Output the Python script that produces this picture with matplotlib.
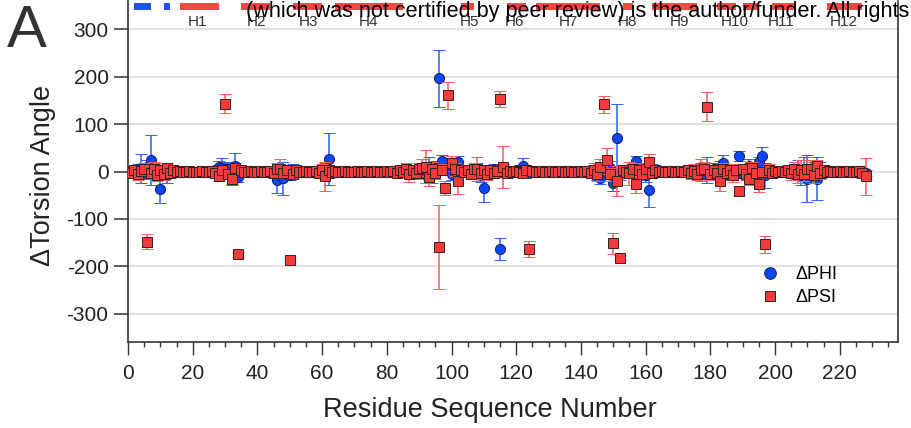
import matplotlib
matplotlib.use("Agg")
import matplotlib.pyplot as plt
from matplotlib.lines import Line2D
import numpy as np

plt.rcParams['font.family'] = ['Liberation Sans', 'DejaVu Sans']
plt.rcParams['axes.unicode_minus'] = False

# ---------------- data ----------------
residues = list(range(1, 229))

phi = [2, -3, 5, 7, -4, 10, 25, 4, -6, -37,
       3, -8, 2, -3, 1, 0, -1, 1, 0, -1,
       0, 1, -1, 0, 1, -2, 3, 10, 8, 5,
       6, -10, 12, -11, 2, -1, 0, 1, 0, -1,
       0, 1, -1, 0, -5, -18, -5, -14, -6, -8,
       3, -4, 1, 0, -1, 0, 1, -2, 3, -4,
       5, 26, -3, 2, -1, 0, 1, -1, 0, 1,
       0, -1, 1, 0, -1, 1, 0, -1, 0, 1,
       -1, 0, 2, -3, 4, -2, 5, -6, 3, -4,
       6, -8, 10, -6, 8, 197, 22, 4, 6, -5,
       8, 20, -3, 2, -1, 4, -6, 5, -8, -35,
       3, -5, 6, -4, -163, 5, -3, 2, -1, 3,
       -2, 11, 4, -3, 1, 0, -1, 1, 0, -1,
       0, 1, -1, 0, 1, 0, -1, 0, 1, -1,
       0, 2, -3, 4, -5, -13, 6, -4, 8, -24,
       71, -6, 3, -2, 5, -4, 22, -6, 4, -8,
       -40, 5, -3, 2, -1, 0, 1, -1, 0, 1,
       -1, 0, 2, -3, 4, -2, 5, -6, 3, -4,
       6, -5, 8, 17, -6, 5, -4, 6, 33, -5,
       4, 11, -6, 8, 20, 33, -8, 5, -3, 2,
       -1, 0, 1, -2, 3, -5, 6, -8, 5, -15,
       4, -6, -15, 5, -3, 2, -1, 0, 1, -1,
       0, 1, -1, 0, 1, -2, 2, -3]

phi_err = [6, 8, 10, 31, 12, 15, 53, 14, 12, 30,
           10, 16, 8, 6, 4, 3, 3, 3, 3, 3,
           3, 3, 3, 3, 3, 5, 8, 12, 20, 12,
           15, 18, 28, 12, 6, 4, 3, 3, 3, 3,
           3, 3, 3, 4, 8, 27, 14, 35, 12, 10,
           12, 8, 4, 3, 3, 3, 3, 4, 6, 10,
           14, 55, 8, 5, 3, 3, 3, 3, 3, 3,
           3, 3, 3, 3, 3, 3, 3, 3, 3, 3,
           3, 3, 4, 5, 6, 6, 8, 10, 8, 10,
           12, 16, 20, 18, 15, 60, 12, 10, 12, 14,
           16, 12, 8, 6, 5, 8, 10, 12, 14, 29,
           10, 8, 10, 8, 23, 10, 6, 5, 4, 6,
           8, 17, 8, 5, 3, 3, 3, 3, 3, 3,
           3, 3, 3, 3, 3, 3, 3, 3, 3, 3,
           4, 5, 8, 10, 12, 14, 12, 10, 14, 17,
           72, 12, 8, 6, 8, 10, 11, 12, 10, 14,
           34, 10, 6, 5, 3, 3, 3, 3, 3, 3,
           3, 4, 6, 8, 10, 8, 12, 10, 28, 10,
           12, 10, 14, 18, 12, 10, 8, 10, 10, 8,
           10, 15, 10, 12, 10, 19, 26, 10, 6, 5,
           4, 4, 5, 6, 10, 14, 18, 20, 25, 50,
           20, 18, 45, 15, 8, 5, 3, 3, 3, 3,
           3, 3, 3, 3, 3, 4, 5, 6]

psi = [-4, 3, -6, 2, 5, -148, -3, 6, -8, 4,
       -5, 7, -3, 4, -2, 1, 0, -1, 1, 0,
       -1, 0, 1, -1, 0, 2, -3, -10, 4, 143,
       -6, -15, 8, -175, 3, -2, 0, 1, -1, 0,
       1, -1, 0, 2, -4, 5, 6, -3, 4, -186,
       -5, 3, -1, 0, 1, -1, 0, 2, -3, 4,
       -10, 3, -2, 1, 0, -1, 1, 0, -1, 0,
       1, -1, 0, 1, -1, 0, 1, -1, 0, 1,
       -1, 2, -3, 4, -2, 6, -5, 3, -4, 5,
       8, 10, -11, 6, -4, -159, 4, -35, 161, 17,
       5, -20, 3, -2, 4, -6, 5, 5, -3, 4,
       -5, 3, -4, 2, 154, 9, -3, 2, -1, 1,
       0, -3, 4, -164, 2, -1, 0, 1, -1, 0,
       1, -1, 0, 1, -1, 0, 1, -1, 0, 1,
       -1, 2, -3, 4, -6, 10, 142, 25, -6, -152,
       -20, -182, 3, -2, -4, 5, -27, 3, -5, 6,
       20, -4, 3, -2, 1, 0, -1, 1, 0, -1,
       1, -2, 3, -4, 2, -5, 3, 6, 137, -6,
       4, -3, -20, 5, -4, 3, -8, 4, -42, 6,
       -5, -15, 8, -4, -27, 0, -154, 4, -3, 2,
       -1, 1, -2, 3, -4, 5, -6, 4, -5, 6,
       6, -8, 11, -4, 3, -2, 1, 0, -1, 1,
       0, -1, 1, 0, -2, 2, -3, -10]

psi_err = [8, 10, 12, 10, 12, 15, 10, 14, 12, 15,
           14, 12, 10, 8, 6, 4, 3, 3, 3, 3,
           3, 3, 3, 3, 3, 4, 6, 10, 8, 20,
           10, 12, 10, 6, 5, 4, 3, 3, 3, 3,
           3, 3, 3, 4, 8, 12, 20, 10, 8, 5,
           10, 8, 4, 3, 3, 3, 3, 4, 8, 12,
           31, 8, 5, 3, 3, 3, 3, 3, 3, 3,
           3, 3, 3, 3, 3, 3, 3, 3, 3, 3,
           3, 4, 6, 8, 10, 12, 17, 10, 12, 14,
           18, 35, 20, 15, 12, 89, 12, 15, 29, 15,
           14, 27, 10, 8, 6, 10, 12, 25, 12, 10,
           12, 10, 8, 10, 17, 44, 10, 6, 4, 5,
           8, 10, 8, 17, 5, 3, 3, 3, 3, 3,
           3, 3, 3, 3, 3, 3, 3, 3, 3, 3,
           4, 6, 10, 14, 15, 16, 18, 25, 14, 23,
           32, 5, 10, 12, 25, 14, 18, 12, 10, 12,
           16, 8, 5, 4, 3, 3, 3, 3, 3, 3,
           3, 5, 8, 12, 14, 12, 23, 14, 30, 12,
           10, 12, 21, 14, 10, 12, 14, 12, 8, 10,
           12, 14, 12, 10, 16, 10, 18, 12, 8, 5,
           5, 6, 8, 10, 14, 16, 18, 20, 16, 18,
           14, 16, 14, 12, 8, 5, 3, 3, 3, 4,
           4, 4, 5, 5, 6, 8, 10, 39]

# secondary structure strip (residue ranges)
strand_starts = [2, 11]
strand_ends = [7, 13]
helix_starts = [16, 35, 51, 64, 103, 117, 126, 153, 162, 182, 190, 199, 216]
helix_ends = [28, 44, 60, 85, 107, 123, 146, 156, 176, 188, 195, 206, 227]
helix_labels = ['H1', 'H2', 'H3', 'H4', 'H5', 'H6', 'H7', 'H8', 'H9', 'H10', 'H11', 'H12']
helix_label_pos = [21.6, 39.8, 55.8, 74.2, 105.7, 119.6, 136, 154.5, 170.6, 187.6, 202, 221.1]

y_ticks = [-300, -200, -100, 0, 100, 200, 300]
x_ticks = list(range(0, 221, 20))

# ---------------- figure ----------------
W, H = 912, 428
fig = plt.figure(figsize=(W / 100, H / 100), dpi=100)
ax = fig.add_axes([128 / W, 1 - 342 / H, (898 - 128) / W, (342 - 1) / H])

blue = '#0a46ff'
red = '#f43b3b'

for yv in y_ticks:
    ax.axhline(yv, color='#d9d9d9', lw=1.1, zorder=0)

ax.errorbar(residues, phi, yerr=phi_err, fmt='o', ms=7.3, mfc=blue, mec='#1a2050',
            mew=0.7, ecolor='#2c60ff', elinewidth=1.1, capsize=4.3, capthick=1.1, zorder=3)
ax.errorbar(residues, psi, yerr=psi_err, fmt='s', ms=6.8, mfc=red, mec='#3a1e1e',
            mew=0.7, ecolor='#ff5a5a', elinewidth=1.1, capsize=4.3, capthick=1.1, zorder=4)

# secondary structure strip
for s, e in zip(strand_starts, strand_ends):
    ax.axvspan(s, e, ymin=0.974, ymax=0.994, color='#1f4fff', lw=0, zorder=5)
for s, e in zip(helix_starts, helix_ends):
    ax.axvspan(s, e, ymin=0.974, ymax=0.994, color='#ff4444', lw=0, zorder=5)
for lab, xp in zip(helix_labels, helix_label_pos):
    ax.text(xp, 0.938, lab, transform=ax.get_xaxis_transform(), ha='center', va='center',
            fontsize=11, color='#333333', zorder=6)

ax.set_xlim(0, 238)
ax.set_ylim(-360, 360)
ax.set_yticks(y_ticks)
ax.set_xticks(x_ticks)
ax.set_xticks(np.arange(0, 239, 5), minor=True)

for side in ['left', 'bottom', 'right']:
    ax.spines[side].set_color('#333333')
    ax.spines[side].set_linewidth(1.2)
ax.spines['top'].set_visible(False)

ax.tick_params(axis='y', which='major', length=10, width=1.1, pad=4, labelsize=15,
               color='#333333', labelcolor='#222222')
ax.tick_params(axis='x', which='major', length=9.7, width=1.0, pad=6, labelsize=15,
               color='#333333', labelcolor='#222222')
ax.tick_params(axis='x', which='minor', length=3.6, width=1.0, color='#333333')

handles = [Line2D([], [], marker='o', ls='none', ms=8.4, mfc=blue, mec='#1a2050', mew=0.7),
           Line2D([], [], marker='s', ls='none', ms=7.8, mfc=red, mec='#3a1e1e', mew=0.7)]
ax.legend(handles, ['\u0394PHI', '\u0394PSI'], loc='upper left',
          bbox_to_anchor=(761 / W, 1 - 266 / H), bbox_transform=fig.transFigure,
          frameon=False, fontsize=13, handlelength=1.0, handletextpad=0.9,
          labelspacing=0.35, borderpad=0, borderaxespad=0)

fig.text(43 / W, 1 - 175 / H, '\u0394Torsion Angle', rotation=90, ha='center', va='center',
         fontsize=19.5, color='#222222')
fig.text(490 / W, 1 - 410 / H, 'Residue Sequence Number', ha='center', va='center',
         fontsize=19.5, color='#222222')
fig.text(7 / W, 1 - 47 / H, 'A', fontsize=43, va='baseline', ha='left', color='#333333')
fig.text(246 / W, 1 - 17 / H,
         '(which was not certified by peer review) is the author/funder. All rights reserved. No reuse allowed without permission.',
         fontsize=15.6, va='baseline', ha='left', color='black', zorder=10)

fig.savefig('out.png', dpi=100)
